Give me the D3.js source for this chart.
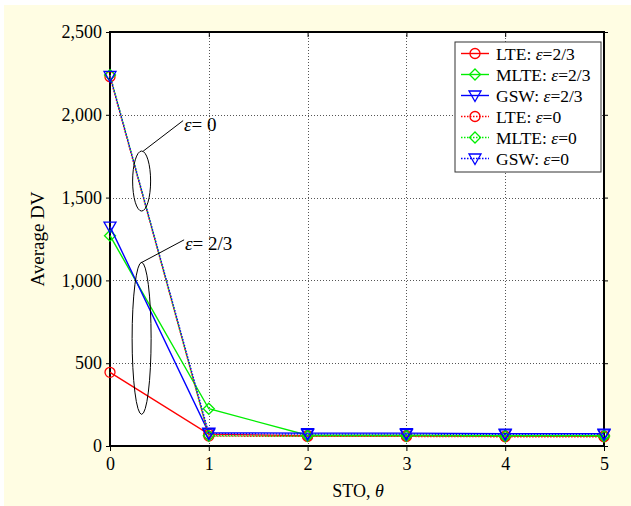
<!DOCTYPE html>
<html>
<head>
<meta charset="utf-8">
<script src="https://cdn.jsdelivr.net/npm/d3@7"></script>
<style>
  body { margin: 0; background: #fff; }
  svg text { font-family: "Liberation Serif", "DejaVu Serif", serif; fill: #000; }
</style>
</head>
<body>
<svg id="chart" width="631" height="506"></svg>
<script>
// x values (STO, theta)
var sto = [0, 1, 2, 3, 4, 5];

// average DV
var lte23  = [445, 72, 62, 62, 60, 60];
var mlte23 = [1270, 225, 65, 65, 63, 63];
var gsw23  = [1325, 80, 78, 78, 75, 75];
var lte0   = [2230, 60, 58, 58, 56, 56];
var mlte0  = [2240, 62, 60, 60, 58, 58];
var gsw0   = [2235, 75, 72, 72, 70, 70];

var xTicks = [0, 1, 2, 3, 4, 5];
var yTicks = [0, 500, 1000, 1500, 2000, 2500];

var seriesNames = ['LTE', 'MLTE', 'GSW', 'LTE', 'MLTE', 'GSW'];
var seriesEps = ['2/3', '2/3', '2/3', '0', '0', '0'];

var series = [
    {name: seriesNames[0], eps: seriesEps[0], values: lte23,  color: '#ff0000', marker: 'circle',  dash: null},
    {name: seriesNames[1], eps: seriesEps[1], values: mlte23, color: '#00ee00', marker: 'diamond', dash: null},
    {name: seriesNames[2], eps: seriesEps[2], values: gsw23,  color: '#0000ff', marker: 'tri',     dash: null},
    {name: seriesNames[3], eps: seriesEps[3], values: lte0,   color: '#ff0000', marker: 'circle',  dash: '1.5,1.5'},
    {name: seriesNames[4], eps: seriesEps[4], values: mlte0,  color: '#00ee00', marker: 'diamond', dash: '1.5,1.5'},
    {name: seriesNames[5], eps: seriesEps[5], values: gsw0,   color: '#0000ff', marker: 'tri',     dash: '1.5,1.5'}
];

var svg = d3.select('#chart');
var W = 631, H = 506;
var plotL = 110, plotR = 604, plotT = 32, plotB = 446;

// yellow panel with thin white margin on top/left
svg.append('rect').attr('x', 4).attr('y', 5).attr('width', W - 4).attr('height', H - 5)
    .attr('fill', '#fffde3');

var x = d3.scaleLinear().domain([0, 5]).range([plotL, plotR]);
var y = d3.scaleLinear().domain([0, 2500]).range([plotB, plotT]);

svg.append('rect').attr('x', plotL).attr('y', plotT)
    .attr('width', plotR - plotL).attr('height', plotB - plotT).attr('fill', '#fff');

// grid
var grid = svg.append('g').attr('stroke', '#555').attr('stroke-width', 1).attr('stroke-dasharray', '1,2');
grid.selectAll('line.gx').data(xTicks.slice(1, -1)).enter().append('line')
    .attr('x1', function(d) { return Math.round(x(d)) + 0.5; })
    .attr('x2', function(d) { return Math.round(x(d)) + 0.5; })
    .attr('y1', plotT).attr('y2', plotB);
grid.selectAll('line.gy').data(yTicks.slice(1, -1)).enter().append('line')
    .attr('y1', function(d) { return Math.round(y(d)) + 0.5; })
    .attr('y2', function(d) { return Math.round(y(d)) + 0.5; })
    .attr('x1', plotL).attr('x2', plotR);

// axes
var xAxis = svg.append('g').attr('transform', 'translate(0,' + plotB + ')')
    .call(d3.axisBottom(x).tickValues(xTicks).tickSize(5).tickPadding(6).tickFormat(d3.format('d')));
var yAxis = svg.append('g').attr('transform', 'translate(' + plotL + ',0)')
    .call(d3.axisLeft(y).tickValues(yTicks).tickSize(4).tickPadding(4).tickFormat(d3.format(',')));
svg.append('g').attr('transform', 'translate(0,' + plotT + ')')
    .call(d3.axisBottom(x).tickValues(xTicks).tickSize(5).tickFormat(''));
svg.append('g').attr('transform', 'translate(' + plotR + ',0)')
    .call(d3.axisRight(y).tickValues(yTicks).tickSize(4).tickFormat(''));
svg.selectAll('.domain').remove();
svg.selectAll('.tick line').attr('stroke', '#000').attr('stroke-width', 1);
xAxis.attr('font-family', '"Liberation Serif", serif');
yAxis.attr('font-family', '"Liberation Serif", serif');
xAxis.selectAll('text').style('font-size', '18px');
yAxis.selectAll('text').style('font-size', '18px');

svg.append('rect').attr('x', plotL).attr('y', plotT)
    .attr('width', plotR - plotL).attr('height', plotB - plotT)
    .attr('fill', 'none').attr('stroke', '#000').attr('stroke-width', 2);

// markers
function drawMarker(g, type, cx, cy, color) {
    if (type === 'circle') {
        g.append('circle').attr('cx', cx).attr('cy', cy).attr('r', 5)
            .attr('fill', 'none').attr('stroke', color).attr('stroke-width', 1.3);
    } else if (type === 'diamond') {
        g.append('path').attr('d', 'M' + cx + ',' + (cy - 5.5) + 'L' + (cx + 5.5) + ',' + cy +
            'L' + cx + ',' + (cy + 5.5) + 'L' + (cx - 5.5) + ',' + cy + 'Z')
            .attr('fill', 'none').attr('stroke', color).attr('stroke-width', 1.3);
    } else {
        g.append('path').attr('d', 'M' + (cx - 6) + ',' + (cy - 4.5) + 'L' + (cx + 6) + ',' + (cy - 4.5) +
            'L' + cx + ',' + (cy + 6) + 'Z')
            .attr('fill', 'none').attr('stroke', color).attr('stroke-width', 1.3);
    }
}

var line = d3.line()
    .x(function(d, i) { return x(sto[i]); })
    .y(function(d) { return y(d); });

series.forEach(function(s) {
    var g = svg.append('g');
    g.append('path').datum(s.values).attr('d', line)
        .attr('fill', 'none').attr('stroke', s.color).attr('stroke-width', 1.4)
        .attr('stroke-dasharray', s.dash);
    s.values.forEach(function(v, i) {
        drawMarker(g, s.marker, x(sto[i]), y(v), s.color);
    });
});

// annotations (ellipses with leader lines), placed in data units
var annotations = [
    {label: '0',   cx: 0.32, cy: 1600, rx: 9,   ry: 30, lx0: 0.335, ly0: 1780, lx1: 0.74, ly1: 1965},
    {label: '2/3', cx: 0.32, cy: 650,  rx: 9.5, ry: 76, lx0: 0.31,  ly0: 1105, lx1: 0.75, ly1: 1245}
];
annotations.forEach(function(a) {
    svg.append('ellipse').attr('cx', x(a.cx)).attr('cy', y(a.cy))
        .attr('rx', a.rx).attr('ry', a.ry)
        .attr('fill', 'none').attr('stroke', '#000').attr('stroke-width', 1);
    svg.append('line').attr('x1', x(a.lx0)).attr('y1', y(a.ly0))
        .attr('x2', x(a.lx1)).attr('y2', y(a.ly1))
        .attr('stroke', '#000').attr('stroke-width', 1);
    var t = svg.append('text').attr('x', x(a.lx1) + 1).attr('y', y(a.ly1) + 10)
        .style('font-size', '19px');
    t.append('tspan').style('font-style', 'italic').text('ε');
    t.append('tspan').text('= ' + a.label);
});

// axis labels
svg.append('text').attr('x', (plotL + plotR) / 2 + 1).attr('y', 497)
    .attr('text-anchor', 'middle').style('font-size', '18px')
    .call(function(t) {
        t.append('tspan').text('STO, ');
        t.append('tspan').style('font-style', 'italic').text('θ');
    });
svg.append('text').attr('transform', 'translate(44,' + ((plotT + plotB) / 2) + ') rotate(-90)')
    .attr('text-anchor', 'middle').style('font-size', '19px').text('Average DV');

// legend
var lg = svg.append('g').attr('transform', 'translate(455,42)');
lg.append('rect').attr('x', 0).attr('y', 0).attr('width', 146).attr('height', 130)
    .attr('fill', '#fff').attr('stroke', '#333').attr('stroke-width', 1);
series.forEach(function(s, i) {
    var cy = 11.5 + i * 21;
    var row = lg.append('g');
    row.append('line').attr('x1', 6).attr('x2', 34).attr('y1', cy).attr('y2', cy)
        .attr('stroke', s.color).attr('stroke-width', 1.4).attr('stroke-dasharray', s.dash);
    drawMarker(row, s.marker, 20, cy, s.color);
    var t = row.append('text').attr('x', 41).attr('y', cy + 6).style('font-size', '17.5px');
    t.append('tspan').text(s.name + ': ');
    t.append('tspan').style('font-style', 'italic').text('ε');
    t.append('tspan').text('=' + s.eps);
});
</script>
</body>
</html>
